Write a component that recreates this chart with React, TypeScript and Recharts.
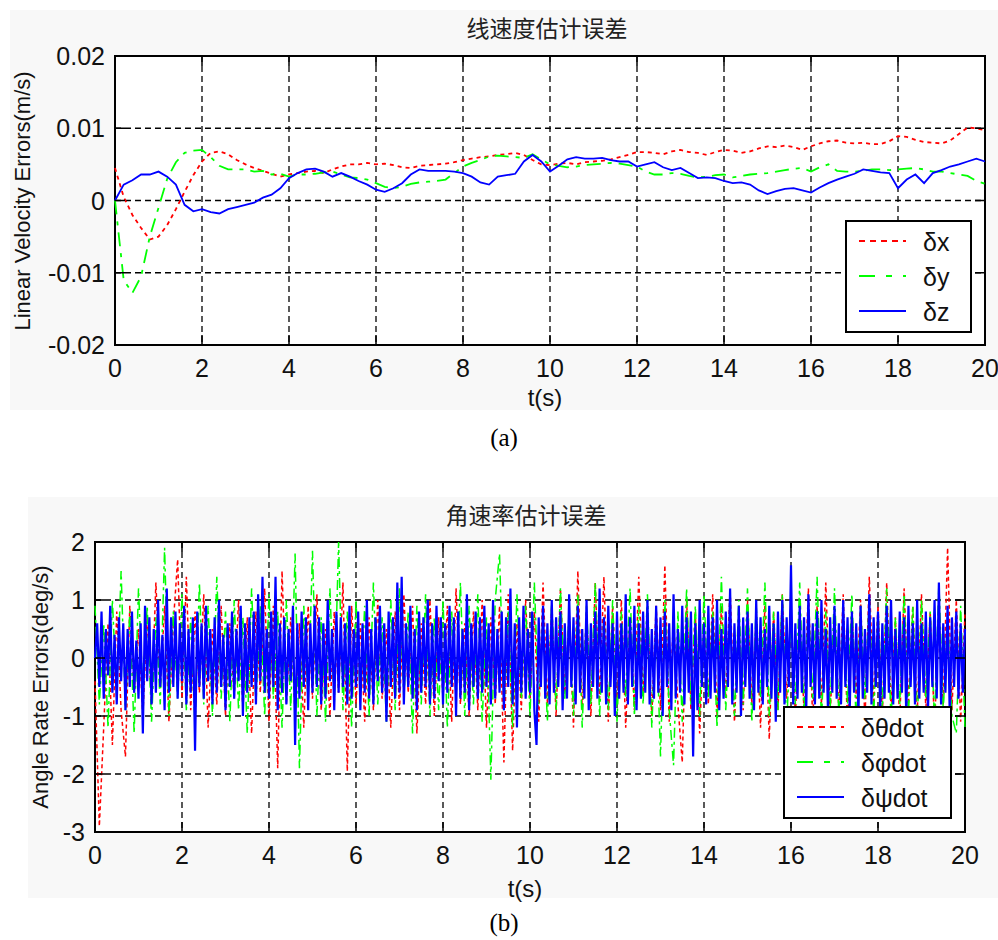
import { LineChart, Line, XAxis, YAxis, CartesianGrid, ReferenceArea } from 'recharts';

// ---- (a) linear velocity errors, sampled every 0.2 s ----
const velStep = 0.2;
const timeTicks = [0, 2, 4, 6, 8, 10, 12, 14, 16, 18, 20];
const velTicksY = [-0.02, -0.01, 0, 0.01, 0.02];

const velDx = [
  0.0045, 0.0005, -0.002, -0.0038, -0.0054, -0.005, -0.0034, -0.0012, 0.0012, 0.0035,
  0.0054, 0.0066, 0.0068, 0.0064, 0.0056, 0.005, 0.0045, 0.0041, 0.0037, 0.0033,
  0.0036, 0.0038, 0.004, 0.0041, 0.0038, 0.0043, 0.0047, 0.005, 0.005, 0.0052,
  0.005, 0.0051, 0.0049, 0.0046, 0.0045, 0.0048, 0.0049, 0.005, 0.0051, 0.0053,
  0.0056, 0.0058, 0.006, 0.0061, 0.0063, 0.0064, 0.0066, 0.0063, 0.0056, 0.005,
  0.0049, 0.0051, 0.0052, 0.005, 0.0053, 0.0054, 0.0055, 0.0057, 0.006, 0.0063,
  0.0067, 0.0067, 0.0066, 0.0064, 0.0068, 0.007, 0.0067, 0.0066, 0.0063, 0.0067,
  0.007, 0.0069, 0.0066, 0.0068, 0.0072, 0.0075, 0.0074, 0.0076, 0.0074, 0.007,
  0.0075, 0.0079, 0.0082, 0.0083, 0.008, 0.0079, 0.008, 0.0078, 0.0078, 0.0082,
  0.0089, 0.0088, 0.0084, 0.0081, 0.008, 0.0079, 0.0083, 0.0092, 0.0101, 0.01,
  0.0097,
];
const velDy = [
  0, -0.011, -0.0128, -0.0105, -0.005, -0.001, 0.003, 0.0053, 0.0066, 0.0069,
  0.007, 0.006, 0.0048, 0.0043, 0.0043, 0.0043, 0.004, 0.0041, 0.0036, 0.0037,
  0.0033, 0.0036, 0.0036, 0.0037, 0.0039, 0.004, 0.0036, 0.0032, 0.0031, 0.0029,
  0.0024, 0.0019, 0.0017, 0.0019, 0.0023, 0.0025, 0.0026, 0.0027, 0.0029, 0.0038,
  0.0047, 0.0052, 0.0056, 0.0061, 0.0062, 0.0061, 0.006, 0.0059, 0.0064, 0.0057,
  0.005, 0.0048, 0.0046, 0.0047, 0.0049, 0.005, 0.0051, 0.0052, 0.0051, 0.0049,
  0.0047, 0.004, 0.0036, 0.0036, 0.0038, 0.0037, 0.0034, 0.0032, 0.0033, 0.0035,
  0.0036, 0.0032, 0.0034, 0.0036, 0.0037, 0.0038, 0.004, 0.0042, 0.0044, 0.0045,
  0.004, 0.0046, 0.005, 0.0041, 0.004, 0.004, 0.0041, 0.0043, 0.0043, 0.0042,
  0.0043, 0.0044, 0.0045, 0.0043, 0.004, 0.004, 0.0038, 0.0036, 0.0034, 0.0027,
  0.0023,
];
const velDz = [
  0, 0.0022, 0.0028, 0.0036, 0.0036, 0.004, 0.0033, 0.0022, -0.0006, -0.0015,
  -0.0012, -0.0016, -0.0018, -0.0012, -0.0009, -0.0006, -0.0003, 0.0004, 0.0008, 0.0017,
  0.0031, 0.0038, 0.0043, 0.0044, 0.004, 0.0033, 0.0038, 0.0033, 0.0027, 0.0022,
  0.0015, 0.0012, 0.0017, 0.0024, 0.0036, 0.0043, 0.0041, 0.0041, 0.0041, 0.004,
  0.0038, 0.0033, 0.0025, 0.0022, 0.0033, 0.0035, 0.0037, 0.0054, 0.0063, 0.0054,
  0.004, 0.0048, 0.0057, 0.006, 0.0058, 0.0058, 0.0059, 0.0056, 0.0054, 0.0054,
  0.0047, 0.005, 0.0053, 0.0046, 0.0042, 0.0045, 0.0038, 0.0031, 0.0032, 0.0031,
  0.0027, 0.0024, 0.0025, 0.0022, 0.0014, 0.0009, 0.0013, 0.0016, 0.0017, 0.0014,
  0.0011, 0.0018, 0.0024, 0.0029, 0.0033, 0.0037, 0.0043, 0.0041, 0.0039, 0.0038,
  0.0017, 0.0029, 0.0036, 0.0024, 0.0038, 0.0042, 0.0047, 0.005, 0.0054, 0.0058,
  0.0054,
];

// ---- (b) angle rate errors: theta/phi every 0.1 s, psi every 0.05 s ----
const rateStep = 0.05;
const rateTicksY = [-3, -2, -1, 0, 1, 2];

const rateTheta = [
  -0.4, -2.9, -1.2, 0.6, -1.5, 0.8, -0.9, -1.7, 0.9, -0.6,
  0.5, -1.0, 0.7, -0.8, 1.3, -0.5, 0.9, -1.1, 0.6, 1.7,
  -0.7, 1.4, -0.9, 0.8, -0.6, 1.1, -1.2, 0.5, -0.8, 0.9,
  -1.0, 0.6, -0.7, 1.0, -0.9, 0.7, -1.3, 0.8, -0.6, 1.2,
  -1.1, 0.9, -1.9, 1.5, -0.8, 0.7, -1.0, 0.6, -1.2, 0.9,
  -0.7, 1.1, -0.9, 0.5, -1.0, 0.8, -0.6, 1.3, -1.95, 0.9,
  -0.8, 0.6, -1.1, 0.7, -0.9, 1.0, -0.7, 0.5, -1.2, 0.8,
  -0.9, 1.1, -0.6, 0.9, -1.3, 0.6, -0.8, 1.0, -1.0, 0.7,
  -0.7, 0.9, -1.1, 1.2, -0.8, 0.6, -1.0, 0.8, -0.9, 1.0,
  -1.2, 0.7, -0.8, 0.9, -1.8, 1.1, -1.6, 0.6, -0.9, 1.0,
  -0.7, 0.8, -1.1, 1.3, -0.8, 0.9, -1.0, 1.2, -0.6, 0.7,
  -1.2, 1.5, -0.9, 0.8, -1.0, 1.3, -0.7, 1.4, -1.1, 0.9,
  -0.8, 1.0, -1.2, 0.7, -0.9, 1.4, -0.6, 0.8, -1.0, 0.9,
  -0.9, 1.6, -1.1, 0.7, -0.8, -1.8, 1.0, -0.9, 0.8, -1.3,
  0.6, -0.8, 1.1, -1.0, 0.9, -0.7, 1.2, -1.1, 0.6, -0.9,
  1.0, -0.8, 0.7, -1.2, 0.9, -1.4, 0.8, -0.9, 1.1, -0.7,
  0.8, -1.0, 0.6, -0.9, 1.2, -1.1, 0.9, -0.8, 1.3, -1.0,
  0.7, -0.9, 1.1, -1.2, 0.8, -0.7, 1.0, -1.1, 1.4, -0.8,
  0.9, -1.0, 1.3, -0.9, 0.7, -1.1, 1.2, -0.8, 0.9, -1.0,
  1.1, -0.9, 0.8, -1.2, 0.7, -0.8, 1.9, -0.9, 1.0, -1.1,
  0.8,
];
const ratePhi = [
  0.9, -0.8, 0.6, -1.2, 1.0, -0.7, 1.5, -0.9, 0.8, -1.3,
  1.2, -0.6, 0.9, -1.1, 0.7, -0.8, 1.9, -1.0, 0.8, -0.7,
  1.1, -0.9, 0.7, -1.2, 1.3, -0.8, 0.9, -1.0, 1.4, -0.7,
  0.8, -1.1, 1.0, -0.9, 0.7, -1.3, 1.2, -0.8, 0.9, -1.0,
  1.1, -0.7, 0.8, -1.2, 1.0, -0.9, 1.8, -1.9, 0.9, -0.8,
  1.85, -1.0, 0.7, -1.1, 1.2, -0.8, 2.0, -0.9, 0.8, -1.2,
  1.0, -0.7, 0.9, -1.0, 1.3, -0.8, 0.7, -1.1, 1.0, -0.9,
  1.2, -0.7, 0.8, -1.3, 0.9, -0.8, 1.1, -1.0, 0.7, -0.9,
  1.0, -1.2, 0.8, -0.7, 1.3, -1.0, 0.9, -0.8, 1.1, -1.1,
  0.7, -2.1, 1.0, 1.8, -0.9, 0.8, -1.2, 1.1, -0.7, 0.9,
  -1.0, 1.3, -0.8, 0.7, -1.1, 1.0, -0.9, 1.2, -0.7, 0.8,
  -1.0, 1.1, -1.2, 0.9, -0.8, 1.3, -1.0, 0.7, -0.9, 1.0,
  -1.1, 0.8, -0.7, 1.2, -1.0, 0.9, -0.8, 1.1, -1.2, 0.7,
  -1.7, 1.0, -0.9, -1.85, 0.8, -1.1, 1.2, -0.8, 0.9, -1.0,
  1.1, -0.7, 0.8, -1.2, 1.4, -0.9, 0.7, -1.0, 1.0, -0.8,
  1.2, -1.1, 0.9, -0.7, 1.3, -1.0, 0.8, -0.9, 1.1, -1.2,
  0.7, -0.8, 1.3, -1.0, 0.9, -0.7, 1.4, -1.1, 0.8, -0.9,
  1.2, -1.0, 0.7, -0.8, 1.1, -1.2, 0.9, -0.7, 1.0, -1.0,
  0.8, -0.9, 1.2, -1.1, 0.7, -0.8, 1.1, -1.0, 0.9, -1.2,
  1.0, -0.7, 0.8, -1.1, 1.3, -0.9, 0.7, -1.0, -1.3, 0.9,
  -1.2,
];
const ratePsi = [
  0.0, 0.6, -0.5, 0.8, -0.7, 0.5, -0.3, 0.9, -0.6, 0.4, -0.8, 0.7, -0.4, 0.6, -0.9, 0.5, -0.5, 0.8, -0.6, 0.3,
  -0.7, 0.6, -1.3, 0.9, -0.4, 0.7, -0.8, 0.5, -0.6, 1.0, -0.5, 0.4, -0.9, 1.2, -0.6, 0.7, -0.5, 0.8, -0.7, 0.6,
  -0.4, 0.9, -0.8, 0.5, -0.6, 0.7, -1.6, 0.8, -0.5, 0.6, -0.7, 0.9, -0.4, 0.5, -0.8, 0.7, -0.6, 1.0, -0.5, 0.4,
  -0.9, 0.6, -0.5, 0.8, -0.7, 0.5, -0.4, 0.9, -1.0, 0.6, -0.6, 0.7, -0.5, 0.8, -0.8, 1.1, -0.4, 1.4, -0.6, 0.5,
  -0.7, 0.8, -0.5, 1.4, -0.9, 0.6, -0.6, 0.7, -0.8, 0.5, -0.4, 0.9, -1.5, 0.6, -0.7, 0.8, -0.5, 0.7, -0.9, 0.6,
  -0.6, 0.9, -0.5, 0.7, -0.8, 0.6, -0.7, 1.0, -0.4, 0.5, -0.9, 0.8, -0.6, 0.7, -0.5, 0.6, -0.8, 0.9, -0.7, 0.5,
  -0.5, 0.8, -0.9, 0.6, -0.6, 1.0, -0.7, 0.5, -0.8, 0.7, -0.4, 0.9, -0.6, 0.6, -1.1, 0.8, -0.5, 0.7, -0.7, 1.3,
  -0.6, 1.4, -0.8, 0.6, -0.5, 0.9, -0.7, 0.5, -0.9, 0.8, -0.6, 0.7, -0.5, 1.0, -0.8, 0.6, -0.7, 0.9, -0.4, 0.7,
  -0.8, 0.6, -0.6, 0.9, -0.5, 0.7, -1.0, 0.8, -0.7, 0.5, -0.6, 1.1, -0.9, 0.6, -0.5, 0.8, -0.7, 0.7, -0.6, 0.9,
  -0.5, 0.6, -0.8, 1.0, -0.7, 0.5, -0.6, 0.8, -0.9, 0.7, -0.5, 1.2, -0.8, 0.6, -1.2, 0.7, -0.6, 0.9, -0.7, 0.5,
  -0.6, 0.8, -0.9, -1.5, 0.7, -0.5, 0.9, -0.7, 0.6, -0.8, 1.0, -0.6, 0.7, -0.5, 0.8, -0.9, 0.6, -0.7, 1.1, -0.5,
  0.7, -0.8, 0.9, -0.6, 0.5, -0.7, 1.0, -0.9, 0.6, -0.5, 0.8, -0.7, 1.2, -0.6, 0.7, -0.8, 0.9, -0.5, 0.6, -1.0,
  0.8, -0.7, 0.6, -0.6, 1.1, -0.8, 0.7, -0.5, 0.9, -0.9, 0.6, -0.7, 0.8, -0.6, 1.0, -0.8, 0.5, -0.7, 0.9, -0.6,
  0.7, -1.0, 0.8, -0.5, 0.6, -0.9, 1.1, -0.7, 0.5, -0.6, 0.9, -0.8, 0.7, -0.6, 0.8, -1.7, 0.6, -0.9, 1.0, -0.5,
  0.6, -0.8, 0.9, -0.7, 0.7, -0.6, 1.0, -0.9, 0.5, -0.7, 0.8, -0.5, 1.2, -0.8, 0.6, -0.6, 0.9, -1.0, 0.7, -0.5,
  0.8, -0.7, 0.6, -0.9, 1.0, -0.6, 0.7, -0.8, 0.5, -0.5, 0.9, -0.7, 0.6, -1.1, 0.8, -0.6, 1.0, -0.8, 0.7, -0.5,
  1.6, -0.8, 0.6, -0.7, 0.9, -0.6, 0.7, -0.9, 1.1, -0.5, 0.6, -0.8, 0.8, -0.7, 1.0, -0.6, 0.5, -0.9, 0.7, -0.6,
  0.9, -0.7, 0.6, -0.8, 1.0, -0.5, 0.7, -0.9, 0.8, -0.6, 0.6, -1.0, 0.9, -0.7, 0.5, -0.6, 1.1, -0.8, 0.7, -0.5,
  0.8, -0.9, 0.6, -0.7, 0.9, -0.6, 1.0, -0.8, 0.5, -0.7, 0.8, -0.6, 0.7, -1.0, 0.9, -0.5, 0.6, -0.8, 1.0, -0.7,
  0.6, -0.6, 0.8, -0.9, 0.7, -0.5, 1.0, -0.7, 1.3, -0.8, 0.6, -0.6, 0.9, -1.0, 0.7, -0.5, 0.8, -0.7, 0.6, -0.6,
  0.5,
];

const velData = velDx.map((v, i) => ({
  t: Math.round(i * velStep * 10) / 10,
  dx: v,
  dy: velDy[i],
  dz: velDz[i],
}));

const rateData = ratePsi.map((v, i) => ({
  t: Math.round(i * rateStep * 100) / 100,
  psi: v,
  theta: i % 2 === 0 ? rateTheta[i / 2] : null,
  phi: i % 2 === 0 ? ratePhi[i / 2] : null,
}));

const RED = '#ff0000';
const GREEN = '#00ff00';
const BLUE = '#0000ff';
const sans = "'Liberation Sans', Arial, sans-serif";
const cjk = "'Noto Sans CJK SC', sans-serif";
const serif = "'Liberation Serif', 'Times New Roman', serif";

function xTick(plotH: number) {
  return (props: any) => {
    const { x, y, payload } = props;
    return (
      <g>
        <line x1={x} y1={y} x2={x} y2={y - 10} stroke="#000" strokeWidth={1.5} />
        <line x1={x} y1={y - plotH} x2={x} y2={y - plotH + 10} stroke="#000" strokeWidth={1.5} />
        <text x={x} y={y + 23} textAnchor="middle" dominantBaseline="central" fontSize={25} fontFamily={sans} fill="#111">
          {payload.value}
        </text>
      </g>
    );
  };
}

function yTick(plotW: number) {
  return (props: any) => {
    const { x, y, payload } = props;
    return (
      <g>
        <line x1={x} y1={y} x2={x + 10} y2={y} stroke="#000" strokeWidth={1.5} />
        <line x1={x + plotW - 10} y1={y} x2={x + plotW} y2={y} stroke="#000" strokeWidth={1.5} />
        <text x={x - 10} y={y} textAnchor="end" dominantBaseline="central" fontSize={25} fontFamily={sans} fill="#111">
          {String(payload.value)}
        </text>
      </g>
    );
  };
}

function VelocityChart() {
  return (
    <LineChart width={998} height={420} data={velData} margin={{ top: 56, right: 13, bottom: 0, left: 0 }}>
      <CartesianGrid stroke="#000" strokeWidth={1.3} strokeDasharray="6 4" fill="#ffffff" />
      <XAxis
        dataKey="t"
        type="number"
        domain={[0, 20]}
        ticks={timeTicks}
        height={75}
        axisLine={false}
        tickLine={false}
        tickSize={0}
        tickMargin={0}
        interval={0}
        tick={xTick(289)}
      />
      <YAxis
        type="number"
        domain={[-0.02, 0.02]}
        ticks={velTicksY}
        width={115}
        axisLine={false}
        tickLine={false}
        tickSize={0}
        tickMargin={0}
        interval={0}
        tick={yTick(870)}
      />
      <Line dataKey="dx" stroke={RED} strokeWidth={1.8} strokeDasharray="4 4" dot={false} activeDot={false} isAnimationActive={false} />
      <Line dataKey="dy" stroke={GREEN} strokeWidth={1.8} strokeDasharray="14 7 4 7" dot={false} activeDot={false} isAnimationActive={false} />
      <Line dataKey="dz" stroke={BLUE} strokeWidth={1.8} dot={false} activeDot={false} isAnimationActive={false} />
      <ReferenceArea x1={0} x2={20} y1={-0.02} y2={0.02} fill="none" fillOpacity={0} stroke="#000" strokeWidth={2} />
    </LineChart>
  );
}

function RateChart() {
  return (
    <LineChart width={998} height={470} data={rateData} margin={{ top: 72, right: 33, bottom: 0, left: 0 }}>
      <CartesianGrid stroke="#000" strokeWidth={1.3} strokeDasharray="6 4" fill="#ffffff" />
      <XAxis
        dataKey="t"
        type="number"
        domain={[0, 20]}
        ticks={timeTicks}
        height={108}
        axisLine={false}
        tickLine={false}
        tickSize={0}
        tickMargin={0}
        interval={0}
        tick={xTick(290)}
      />
      <YAxis
        type="number"
        domain={[-3, 2]}
        ticks={rateTicksY}
        width={95}
        axisLine={false}
        tickLine={false}
        tickSize={0}
        tickMargin={0}
        interval={0}
        tick={yTick(870)}
      />
      <Line dataKey="theta" connectNulls stroke={RED} strokeWidth={1.5} strokeDasharray="4 3" dot={false} activeDot={false} isAnimationActive={false} />
      <Line dataKey="phi" connectNulls stroke={GREEN} strokeWidth={1.5} strokeDasharray="10 4 3 4" dot={false} activeDot={false} isAnimationActive={false} />
      <Line dataKey="psi" stroke={BLUE} strokeWidth={2.2} dot={false} activeDot={false} isAnimationActive={false} />
      <ReferenceArea x1={0} x2={20} y1={-3} y2={2} fill="none" fillOpacity={0} stroke="#000" strokeWidth={2} />
    </LineChart>
  );
}

function LegendBox({ x, y, w, h, labels }: { x: number; y: number; w: number; h: number; labels: string[] }) {
  const rows = [
    { color: RED, dash: '6 5' },
    { color: GREEN, dash: '16 11 6 11' },
    { color: BLUE, dash: undefined },
  ];
  return (
    <g>
      <rect x={x} y={y} width={w} height={h} fill="#fff" stroke="#000" strokeWidth={2} />
      {rows.map((r, i) => {
        const cy = y + 20 + i * 35;
        return (
          <g key={i}>
            <line x1={x + 13} x2={x + 60} y1={cy} y2={cy} stroke={r.color} strokeWidth={2} strokeDasharray={r.dash} />
            <text x={x + 77} y={cy + 1} dominantBaseline="central" fontSize={25} fontFamily={sans} fill="#111">
              {labels[i]}
            </text>
          </g>
        );
      })}
    </g>
  );
}

export default function App() {
  return (
    <div style={{ position: 'absolute', left: 0, top: 0, width: 998, height: 940, background: '#fff' }}>
      <div style={{ position: 'absolute', left: 10, top: 10, width: 988, height: 400, background: '#f8f8f8' }} />
      <div style={{ position: 'absolute', left: 28, top: 497, width: 970, height: 401, background: '#f8f8f8' }} />
      <div style={{ position: 'absolute', left: 0, top: 0 }}>
        <VelocityChart />
      </div>
      <div style={{ position: 'absolute', left: 0, top: 470 }}>
        <RateChart />
      </div>
      <svg width={998} height={940} style={{ position: 'absolute', left: 0, top: 0, pointerEvents: 'none' }}>
        <text x={547} y={27} textAnchor="middle" dominantBaseline="central" fontSize={23} fontFamily={cjk} fill="#222">
          线速度估计误差
        </text>
        <text transform="translate(22,201) rotate(-90)" textAnchor="middle" dominantBaseline="central" fontSize={22} fontFamily={sans} fill="#111">
          Linear Velocity Errors(m/s)
        </text>
        <text x={545} y={397} textAnchor="middle" dominantBaseline="central" fontSize={24} fontFamily={sans} fill="#111">
          t(s)
        </text>
        <text x={504} y={437} textAnchor="middle" dominantBaseline="central" fontSize={25} fontFamily={serif} fill="#000">
          (a)
        </text>
        <LegendBox x={846} y={221} w={125} h={111} labels={['δx', 'δy', 'δz']} />

        <text x={526} y={514} textAnchor="middle" dominantBaseline="central" fontSize={23} fontFamily={cjk} fill="#222">
          角速率估计误差
        </text>
        <text transform="translate(40,687) rotate(-90)" textAnchor="middle" dominantBaseline="central" fontSize={22} fontFamily={sans} fill="#111">
          Angle Rate Errors(deg/s)
        </text>
        <text x={525} y={888} textAnchor="middle" dominantBaseline="central" fontSize={24} fontFamily={sans} fill="#111">
          t(s)
        </text>
        <text x={504} y={922} textAnchor="middle" dominantBaseline="central" fontSize={25} fontFamily={serif} fill="#000">
          (b)
        </text>
        <LegendBox x={784} y={707} w={167} h={111} labels={['δθdot', 'δφdot', 'δψdot']} />
      </svg>
    </div>
  );
}
